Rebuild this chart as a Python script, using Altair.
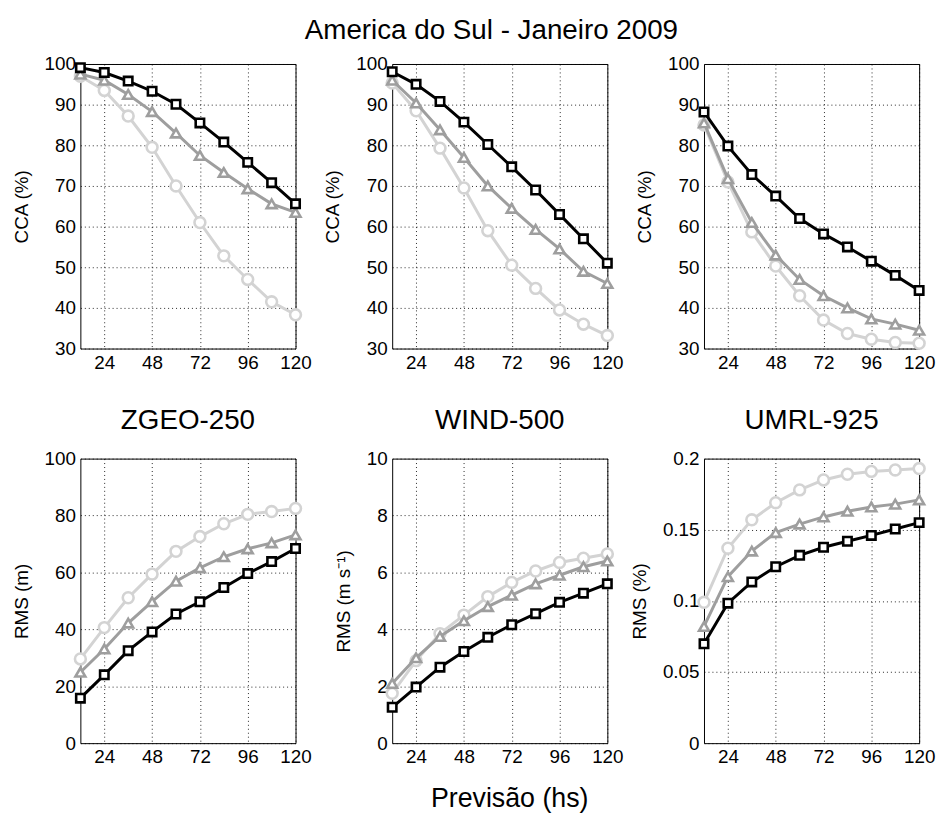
import altair as alt
import pandas as pd

hours = [12, 24, 36, 48, 60, 72, 84, 96, 108, 120]
x_ticks = [24, 48, 72, 96, 120]

# CCA (%) - top row
cca_zgeo_sq = [99.1, 97.9, 95.8, 93.3, 90.1, 85.5, 80.8, 75.8, 70.8, 65.6]
cca_zgeo_tri = [97.5, 96.0, 92.5, 88.3, 83.0, 77.5, 73.3, 69.3, 65.6, 63.5]
cca_zgeo_circ = [97.0, 93.5, 87.2, 79.5, 70.0, 61.0, 52.8, 47.0, 41.5, 38.3]

cca_wind_sq = [98.1, 95.0, 90.8, 85.7, 80.2, 74.7, 69.0, 63.0, 57.0, 51.0]
cca_wind_tri = [96.0, 90.4, 83.8, 77.0, 70.0, 64.5, 59.3, 54.5, 49.0, 46.0]
cca_wind_circ = [95.3, 88.5, 79.3, 69.5, 59.0, 50.5, 44.8, 39.5, 36.0, 33.2]

cca_umrl_sq = [88.2, 79.8, 72.8, 67.5, 62.0, 58.2, 55.0, 51.5, 48.0, 44.3]
cca_umrl_tri = [85.5, 71.8, 61.0, 53.0, 47.0, 43.0, 40.0, 37.3, 36.0, 34.5]
cca_umrl_circ = [85.0, 71.0, 58.7, 50.3, 43.0, 37.0, 33.7, 32.3, 31.5, 31.3]

# RMS - bottom row
rms_zgeo_sq = [15.8, 24.0, 32.5, 39.1, 45.4, 49.7, 54.7, 59.6, 63.8, 68.4]
rms_zgeo_tri = [24.9, 33.1, 42.2, 49.7, 56.9, 61.6, 65.5, 68.3, 70.4, 73.2]
rms_zgeo_circ = [29.6, 40.6, 51.1, 59.4, 67.4, 72.6, 77.1, 80.4, 81.4, 82.5]

rms_wind_sq = [1.26, 1.97, 2.67, 3.22, 3.72, 4.16, 4.55, 4.95, 5.27, 5.6]
rms_wind_tri = [2.1, 3.0, 3.75, 4.3, 4.8, 5.2, 5.6, 5.9, 6.2, 6.4]
rms_wind_circ = [1.75, 2.9, 3.85, 4.5, 5.15, 5.65, 6.05, 6.35, 6.5, 6.65]

rms_umrl_sq = [0.0698, 0.0984, 0.1133, 0.124, 0.132, 0.1377, 0.1419, 0.146, 0.1505, 0.155]
rms_umrl_tri = [0.082, 0.117, 0.135, 0.148, 0.154, 0.159, 0.163, 0.166, 0.168, 0.171]
rms_umrl_circ = [0.099, 0.137, 0.157, 0.169, 0.178, 0.185, 0.189, 0.191, 0.192, 0.193]

panel_titles = ["ZGEO-250", "WIND-500", "UMRL-925"]
y_titles_top = ["CCA (%)", "CCA (%)", "CCA (%)"]
y_titles_bottom = ["RMS (m)", "RMS (m s\u207b\u00b9)", "RMS (%)"]
cca_ticks = [30, 40, 50, 60, 70, 80, 90, 100]
rms_zgeo_ticks = [0, 20, 40, 60, 80, 100]
rms_wind_ticks = [0, 2, 4, 6, 8, 10]
rms_umrl_ticks = [0, 0.05, 0.1, 0.15, 0.2]

BLACK = "#000000"
GRAY = "#9e9e9e"
LIGHT = "#d3d3d3"
FONT = "Liberation Sans"
W, H = 217, 287


def panel(sq, tri, circ, yticks, ytitle, title=None, xtitle=None, xtitle_x=None):
    xaxis_kw = dict(values=x_ticks)
    if xtitle is not None:
        xaxis_kw.update(title=xtitle, titleFontSize=27, titlePadding=19)
        if xtitle_x is not None:
            xaxis_kw.update(titleX=xtitle_x)
    else:
        xaxis_kw.update(title=None)
    X = alt.X("h:Q", scale=alt.Scale(domain=[12, 120], nice=False, zero=False),
              axis=alt.Axis(**xaxis_kw))
    Y = alt.Y("v:Q", scale=alt.Scale(domain=[yticks[0], yticks[-1]], nice=False, zero=False),
              axis=alt.Axis(values=yticks, title=ytitle, format="~r"))
    layers = []
    for vals, color, shape, size in [
        (circ, LIGHT, "circle", 120),
        (tri, GRAY, "triangle-up", 100),
        (sq, BLACK, "square", 72),
    ]:
        df = pd.DataFrame({"h": hours, "v": vals})
        base = alt.Chart(df)
        layers.append(base.mark_line(color=color, strokeWidth=3).encode(x=X, y=Y))
        layers.append(base.mark_point(shape=shape, size=size, filled=True, fill="white",
                                      stroke=color, strokeWidth=2.6, opacity=1).encode(x=X, y=Y))
    ch = alt.layer(*layers).properties(width=W, height=H)
    if title is not None:
        ch = ch.properties(title=alt.TitleParams(title, fontSize=28, offset=15))
    return ch


panels = [
    panel(cca_zgeo_sq, cca_zgeo_tri, cca_zgeo_circ, cca_ticks, y_titles_top[0]),
    panel(cca_wind_sq, cca_wind_tri, cca_wind_circ, cca_ticks, y_titles_top[1]),
    panel(cca_umrl_sq, cca_umrl_tri, cca_umrl_circ, cca_ticks, y_titles_top[2]),
    panel(rms_zgeo_sq, rms_zgeo_tri, rms_zgeo_circ, rms_zgeo_ticks, y_titles_bottom[0], panel_titles[0]),
    panel(rms_wind_sq, rms_wind_tri, rms_wind_circ, rms_wind_ticks, y_titles_bottom[1], panel_titles[1],
          xtitle="Previs\u00e3o (hs)", xtitle_x=118),
    panel(rms_umrl_sq, rms_umrl_tri, rms_umrl_circ, rms_umrl_ticks, y_titles_bottom[2], panel_titles[2]),
]

chart = alt.concat(*panels, columns=3, spacing={"row": 111, "column": 97.5}, bounds="flush").properties(
    title=alt.TitleParams("America do Sul - Janeiro 2009", anchor="middle", fontSize=28, dx=18, offset=10),
    padding={"left": 3, "top": 5, "right": 0, "bottom": 0},
    background="white",
).configure_axis(
    labelFont=FONT, labelFontSize=19, labelColor="black",
    titleFont=FONT, titleFontSize=19, titleFontWeight="normal", titleColor="black",
    domain=False, ticks=False, grid=True, gridColor="black", gridDash=[1, 3],
    gridWidth=1, gridOpacity=0.85, labelPadding=5, labelFlush=False, labelOverlap=False,
).configure_axisY(titlePadding=13).configure_view(
    stroke="black", strokeWidth=1
).configure_title(
    font=FONT, fontWeight="normal", color="black"
)

chart.save("out.html", embed_options={"renderer": "svg", "actions": False})
